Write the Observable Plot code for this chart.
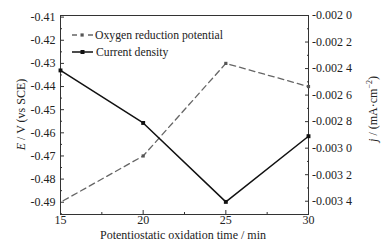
<!DOCTYPE html>
<html><head><meta charset="utf-8">
<script src="https://cdn.jsdelivr.net/npm/d3@7"></script>
<script src="https://cdn.jsdelivr.net/npm/@observablehq/plot@0.6"></script>
<style>body{margin:0;background:#fff} svg{display:block} svg text, svg g{font-family:"Liberation Serif", serif !important;}</style>
</head><body><div id="chart"></div>
<script>
const times = [15, 20, 25, 30];
const orp = [-0.49, -0.47, -0.43, -0.44];
const current = [-0.002414, -0.00281, -0.003405, -0.00291];
const seriesNames = ["Oxygen reduction potential", "Current density"];
const leftTicks = [-0.49, -0.48, -0.47, -0.46, -0.45, -0.44, -0.43, -0.42, -0.41];
const leftMinor = [-0.495, -0.485, -0.475, -0.465, -0.455, -0.445, -0.435, -0.425, -0.415];
const rightTicks = [-0.0034, -0.0032, -0.0030, -0.0028, -0.0026, -0.0024, -0.0022, -0.0020];
const rightMinor = [-0.0035, -0.0033, -0.0031, -0.0029, -0.0027, -0.0025, -0.0023, -0.0021];
const xTicks = [15, 20, 25, 30];
const xMinor = [17.5, 22.5, 27.5];
const leftDomain = [-0.4953, -0.4093];
const rightDomain = [-0.0035, -0.0020];
const xTitle = "Potentiostatic oxidation time / min";

const toLeft = d3.scaleLinear(rightDomain, leftDomain);
const fromLeft = toLeft.invert;
const orpData = times.map((t, i) => ({t, v: orp[i]}));
const curData = times.map((t, i) => ({t, v: toLeft(current[i])}));
const fmtLeft = d => d3.format(".2f")(d).replace("−", "-");
const fmtRight = d => {
  const s = d3.format(".4f")(fromLeft(d)).replace("−", "-");
  return s.slice(0, -1) + " " + s.slice(-1);
};
const axisColor = "#333";
const chart = Plot.plot({
  width: 381, height: 243,
  marginLeft: 60, marginRight: 73, marginTop: 15, marginBottom: 29,
  style: {fontFamily: "Liberation Serif", fontSize: "12px", color: "#222", background: "#fff"},
  x: {domain: [15, 30]},
  y: {domain: leftDomain},
  marks: [
    Plot.frame({stroke: axisColor}),
    Plot.axisX(xTicks, {tickSize: -4, tickPadding: 5, tickFormat: d => String(d), label: null, stroke: axisColor}),
    Plot.axisX(xMinor, {tickSize: -2, tickPadding: 0, tickFormat: () => "", label: null, stroke: axisColor}),
    Plot.axisY(leftTicks, {anchor: "left", tickSize: -4, tickPadding: 9, tickFormat: fmtLeft, label: null, stroke: axisColor}),
    Plot.axisY(leftMinor, {anchor: "left", tickSize: -2, tickPadding: 0, tickFormat: () => "", label: null, stroke: axisColor}),
    Plot.axisY(rightTicks.map(toLeft), {anchor: "right", tickSize: -4, tickPadding: 7.5, tickFormat: fmtRight, label: null, stroke: axisColor}),
    Plot.axisY(rightMinor.map(toLeft), {anchor: "right", tickSize: -2, tickPadding: 0, tickFormat: () => "", label: null, stroke: axisColor}),
    Plot.line(orpData, {x: "t", y: "v", stroke: "#666", strokeWidth: 1.3, strokeDasharray: "6,4", strokeDashoffset: 7}),
    Plot.dot(orpData, {filter: d => d.t > times[0], x: "t", y: "v", symbol: "square", r: 1.8, fill: "#555", stroke: "none"}),
    Plot.line(curData, {x: "t", y: "v", stroke: "#111", strokeWidth: 1.5}),
    Plot.dot(curData, {x: "t", y: "v", symbol: "square", r: 2.2, fill: "#111", stroke: "none"})
  ]
});
document.getElementById("chart").append(chart);

const svg = d3.select(chart);
// axis titles
const lt = svg.append("text").attr("transform", "translate(25,114.5) rotate(-90)")
  .style("text-anchor", "middle").style("font-size", "12px").style("fill", "#222");
lt.append("tspan").style("font-style", "italic").text("E");
lt.append("tspan").text(" / V (vs SCE)");
const rt = svg.append("text").attr("transform", "translate(377,109) rotate(-90)")
  .style("text-anchor", "middle").style("font-size", "12px").style("fill", "#222");
rt.append("tspan").style("font-style", "italic").text("j");
rt.append("tspan").text(" / (mA·cm");
rt.append("tspan").style("font-size", "8px").attr("dy", -5).text("−2");
rt.append("tspan").attr("dy", 5).text(")");
svg.append("text").attr("x", 183).attr("y", 239).style("text-anchor", "middle")
  .style("font-size", "12px").style("fill", "#222").text(xTitle);
// legend
const lg = svg.append("g").style("font-size", "11.7px").style("fill", "#222").style("text-anchor", "start");
lg.append("line").attr("x1", 72).attr("x2", 93).attr("y1", 35).attr("y2", 35)
  .attr("stroke", "#666").attr("stroke-width", 1.3).attr("stroke-dasharray", "5,11");
lg.append("rect").attr("x", 80.5).attr("y", 33.4).attr("width", 3.2).attr("height", 3.2).style("fill", "#555");
lg.append("text").attr("x", 95).attr("y", 39).text(seriesNames[0]);
lg.append("line").attr("x1", 72).attr("x2", 93).attr("y1", 52).attr("y2", 52)
  .attr("stroke", "#111").attr("stroke-width", 1.5);
lg.append("rect").attr("x", 80.5).attr("y", 50).attr("width", 4).attr("height", 4).style("fill", "#111");
lg.append("text").attr("x", 96).attr("y", 56).text(seriesNames[1]);
</script>
</body></html>
